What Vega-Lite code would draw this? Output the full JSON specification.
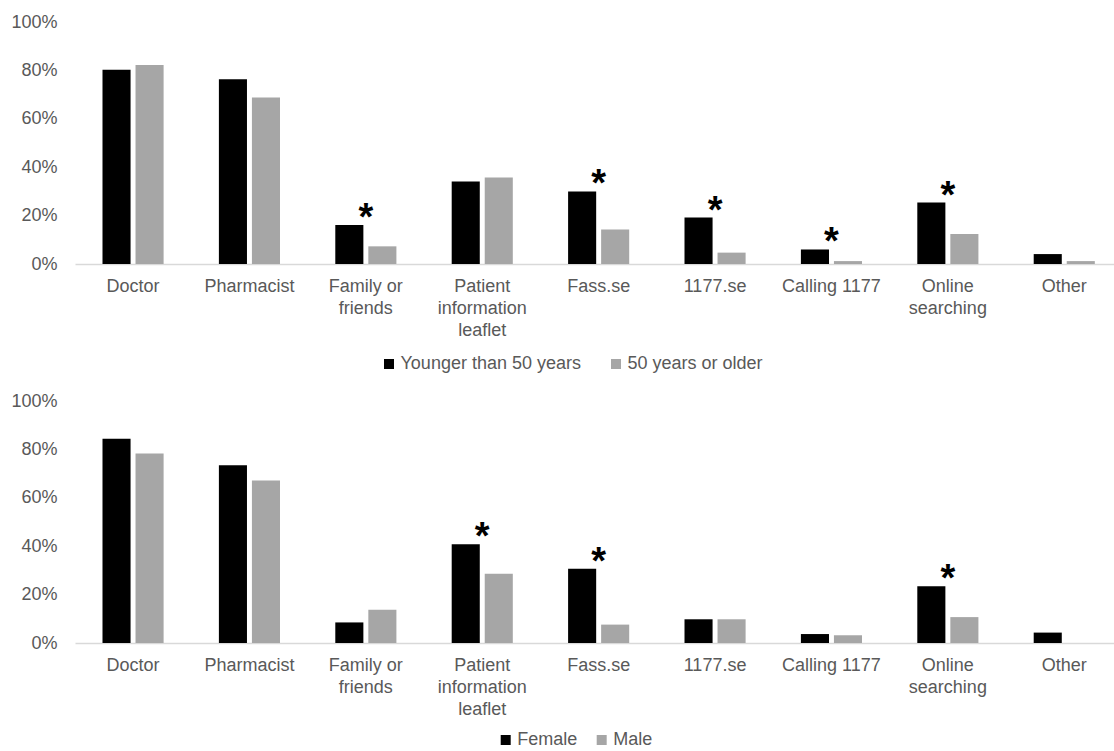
{
  "$schema": "https://vega.github.io/schema/vega-lite/v6.json",
  "background": "white",
  "padding": {"left": 0, "top": 13, "right": 0, "bottom": 0},
  "config": {
    "font": "Liberation Sans",
    "view": {"stroke": null},
    "axis": {"labelFont": "Liberation Sans", "labelFontSize": 18, "labelColor": "#595959", "title": null, "grid": false},
    "legend": {"labelFont": "Liberation Sans", "labelFontSize": 18, "labelColor": "#595959", "labelLimit": 0}
  },
  "datasets": {
    "age": [
      {"source": "Doctor", "group": "Younger than 50 years", "value": 80.3, "sig": false},
      {"source": "Doctor", "group": "50 years or older", "value": 82.2, "sig": false},
      {"source": "Pharmacist", "group": "Younger than 50 years", "value": 76.3, "sig": false},
      {"source": "Pharmacist", "group": "50 years or older", "value": 68.8, "sig": false},
      {"source": "Family or friends", "group": "Younger than 50 years", "value": 16.1, "sig": true},
      {"source": "Family or friends", "group": "50 years or older", "value": 7.3, "sig": true},
      {"source": "Patient information leaflet", "group": "Younger than 50 years", "value": 34.1, "sig": false},
      {"source": "Patient information leaflet", "group": "50 years or older", "value": 35.7, "sig": false},
      {"source": "Fass.se", "group": "Younger than 50 years", "value": 30.0, "sig": true},
      {"source": "Fass.se", "group": "50 years or older", "value": 14.3, "sig": true},
      {"source": "1177.se", "group": "Younger than 50 years", "value": 19.2, "sig": true},
      {"source": "1177.se", "group": "50 years or older", "value": 4.7, "sig": true},
      {"source": "Calling 1177", "group": "Younger than 50 years", "value": 6.0, "sig": true},
      {"source": "Calling 1177", "group": "50 years or older", "value": 1.2, "sig": true},
      {"source": "Online searching", "group": "Younger than 50 years", "value": 25.4, "sig": true},
      {"source": "Online searching", "group": "50 years or older", "value": 12.4, "sig": true},
      {"source": "Other", "group": "Younger than 50 years", "value": 4.1, "sig": false},
      {"source": "Other", "group": "50 years or older", "value": 1.2, "sig": false}
    ],
    "sex": [
      {"source": "Doctor", "group": "Female", "value": 84.4, "sig": false},
      {"source": "Doctor", "group": "Male", "value": 78.3, "sig": false},
      {"source": "Pharmacist", "group": "Female", "value": 73.4, "sig": false},
      {"source": "Pharmacist", "group": "Male", "value": 67.1, "sig": false},
      {"source": "Family or friends", "group": "Female", "value": 8.5, "sig": false},
      {"source": "Family or friends", "group": "Male", "value": 13.7, "sig": false},
      {"source": "Patient information leaflet", "group": "Female", "value": 40.8, "sig": true},
      {"source": "Patient information leaflet", "group": "Male", "value": 28.6, "sig": true},
      {"source": "Fass.se", "group": "Female", "value": 30.7, "sig": true},
      {"source": "Fass.se", "group": "Male", "value": 7.6, "sig": true},
      {"source": "1177.se", "group": "Female", "value": 9.8, "sig": false},
      {"source": "1177.se", "group": "Male", "value": 9.8, "sig": false},
      {"source": "Calling 1177", "group": "Female", "value": 3.7, "sig": false},
      {"source": "Calling 1177", "group": "Male", "value": 3.2, "sig": false},
      {"source": "Online searching", "group": "Female", "value": 23.4, "sig": true},
      {"source": "Online searching", "group": "Male", "value": 10.7, "sig": true},
      {"source": "Other", "group": "Female", "value": 4.3, "sig": false},
      {"source": "Other", "group": "Male", "value": 0, "sig": false}
    ]
  },
  "spacing": 19,
  "resolve": {"scale": {"color": "independent", "x": "independent", "y": "independent", "xOffset": "independent"}, "legend": {"color": "independent"}},
  "vconcat": [
    {
      "width": 1039,
      "height": 242,
      "data": {"name": "age"},
      "encoding": {
        "x": {
          "field": "source", "type": "nominal",
          "sort": ["Doctor", "Pharmacist", "Family or friends", "Patient information leaflet", "Fass.se", "1177.se", "Calling 1177", "Online searching", "Other"],
          "scale": {"paddingInner": 0.475, "paddingOuter": 0.2005, "align": 0.589},
          "axis": {
            "labelAngle": 0, "domain": true, "domainColor": "#d9d9d9", "domainWidth": 1.5, "ticks": false, "tickSize": 0,
            "labelPadding": 13, "labelLineHeight": 22, "labelBaseline": "top",
            "labelExpr": "datum.value == 'Family or friends' ? ['Family or', 'friends'] : datum.value == 'Patient information leaflet' ? ['Patient', 'information', 'leaflet'] : datum.value == 'Online searching' ? ['Online', 'searching'] : datum.value"
          }
        },
        "y": {
          "field": "value", "type": "quantitative",
          "scale": {"domain": [0, 100], "nice": false},
          "axis": {"values": [0, 20, 40, 60, 80, 100], "labelExpr": "datum.value + '%'", "domain": false, "ticks": false, "tickSize": 0, "labelPadding": 18, "minExtent": 75, "maxExtent": 75}
        }
      },
      "layer": [
        {
          "mark": {"type": "bar"},
          "encoding": {
            "xOffset": {"field": "group", "type": "nominal", "sort": ["Younger than 50 years", "50 years or older"], "scale": {"paddingInner": 0.15, "paddingOuter": 0}},
            "color": {
              "field": "group", "type": "nominal", "sort": ["Younger than 50 years", "50 years or older"],
              "scale": {"domain": ["Younger than 50 years", "50 years or older"], "range": ["#000000", "#a6a6a6"]},
              "legend": {"title": null, "orient": "none", "legendX": 305, "legendY": 333, "direction": "horizontal", "symbolType": "square", "symbolSize": 100, "symbolStrokeWidth": 0, "labelOffset": 2.5, "columnPadding": 26, "padding": 0, "labelLimit": 0}
            }
          }
        },
        {
          "transform": [{"filter": "datum.sig && datum.group == 'Younger than 50 years'"}],
          "mark": {"type": "text", "text": "*", "font": "Liberation Sans", "fontSize": 38, "fontWeight": "bold", "baseline": "alphabetic", "dy": 5, "color": "#000000"}
        }
      ]
    },
    {
      "width": 1039,
      "height": 242,
      "data": {"name": "sex"},
      "encoding": {
        "x": {
          "field": "source", "type": "nominal",
          "sort": ["Doctor", "Pharmacist", "Family or friends", "Patient information leaflet", "Fass.se", "1177.se", "Calling 1177", "Online searching", "Other"],
          "scale": {"paddingInner": 0.475, "paddingOuter": 0.2005, "align": 0.589},
          "axis": {
            "labelAngle": 0, "domain": true, "domainColor": "#d9d9d9", "domainWidth": 1.5, "ticks": false, "tickSize": 0,
            "labelPadding": 13, "labelLineHeight": 22, "labelBaseline": "top",
            "labelExpr": "datum.value == 'Family or friends' ? ['Family or', 'friends'] : datum.value == 'Patient information leaflet' ? ['Patient', 'information', 'leaflet'] : datum.value == 'Online searching' ? ['Online', 'searching'] : datum.value"
          }
        },
        "y": {
          "field": "value", "type": "quantitative",
          "scale": {"domain": [0, 100], "nice": false},
          "axis": {"values": [0, 20, 40, 60, 80, 100], "labelExpr": "datum.value + '%'", "domain": false, "ticks": false, "tickSize": 0, "labelPadding": 18, "minExtent": 75, "maxExtent": 75}
        }
      },
      "layer": [
        {
          "mark": {"type": "bar"},
          "encoding": {
            "xOffset": {"field": "group", "type": "nominal", "sort": ["Female", "Male"], "scale": {"paddingInner": 0.15, "paddingOuter": 0}},
            "color": {
              "field": "group", "type": "nominal", "sort": ["Female", "Male"],
              "scale": {"domain": ["Female", "Male"], "range": ["#000000", "#a6a6a6"]},
              "legend": {"title": null, "orient": "none", "legendX": 421.7, "legendY": 330, "direction": "horizontal", "symbolType": "square", "symbolSize": 100, "symbolStrokeWidth": 0, "labelOffset": 2.5, "columnPadding": 15, "padding": 0, "labelLimit": 0}
            }
          }
        },
        {
          "transform": [{"filter": "datum.sig && datum.group == 'Female'"}],
          "mark": {"type": "text", "text": "*", "font": "Liberation Sans", "fontSize": 38, "fontWeight": "bold", "baseline": "alphabetic", "dy": 5, "color": "#000000"}
        }
      ]
    }
  ]
}
